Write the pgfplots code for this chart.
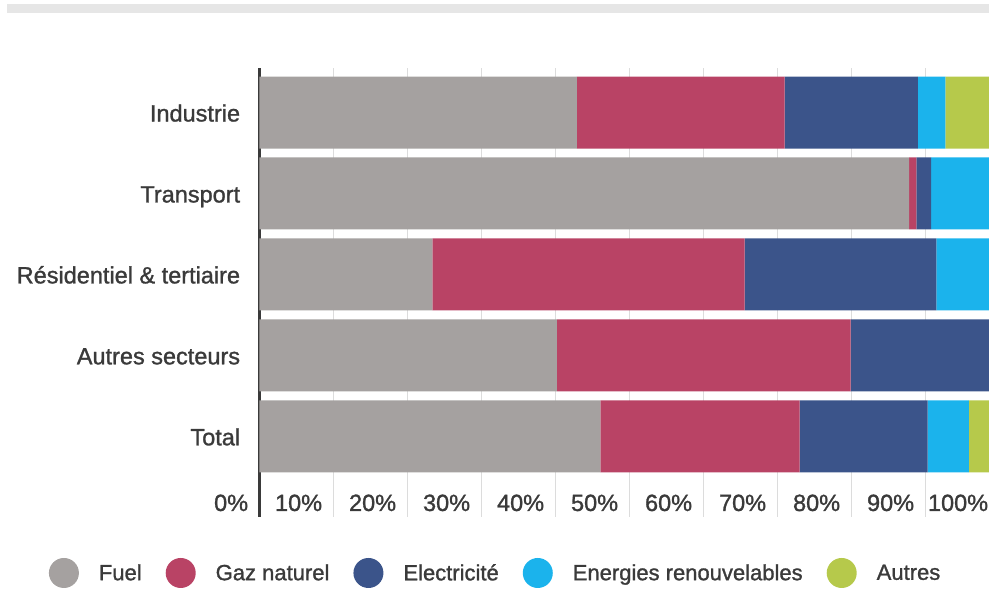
\documentclass[border=0pt]{standalone}
\usepackage{pgfplots}
\usepackage{pgfplotstable}
\pgfplotsset{compat=1.18}
\usepackage{fontspec}
\setmainfont{Liberation Sans}[FakeBold=1.2]

\definecolor{fuel}{HTML}{A5A1A0}
\definecolor{gaz}{HTML}{B94365}
\definecolor{elec}{HTML}{3B548A}
\definecolor{renew}{HTML}{1BB3EC}
\definecolor{autres}{HTML}{B6C94B}
\definecolor{txt}{HTML}{3A3A3A}
\definecolor{gridc}{HTML}{DCDCDC}
\definecolor{headc}{HTML}{E6E6E6}

% Share of each energy source in final consumption, by sector (%)
% pos: 4 = Industrie ... 0 = Total
\pgfplotstableread{
pos fuel gaz  elec  renew autres
4   42.9 28.1 18.0  3.7   7.3
3   87.8 1.0  2.0   9.2   0
2   23.4 42.2 25.9  8.5   0
1   40.2 39.7 20.1  0     0
0   46.1 26.9 17.3  5.6   4.1
}\mixdata

\begin{document}
\begin{tikzpicture}[x=1pt,y=1pt]
\path[use as bounding box] (0,0) rectangle (989,592);
% header rule
\fill[headc] (7,588) rectangle (989,578.7);
\begin{axis}[
  at={(259.3pt,75pt)}, anchor=south west,
  scale only axis,
  width=740pt, height=449pt,
  clip=false,
  xbar stacked,
  bar width=72pt,
  xmin=0, xmax=100,
  ymin=-0.997, ymax=4.55,
  axis line style={draw=none},
  major tick length=0pt,
  xmajorgrids,
  grid style={gridc, line width=1.5pt},
  xtick={0,10,...,100},
  xticklabels={0\%,10\%,20\%,30\%,40\%,50\%,60\%,70\%,80\%,90\%,100\%},
  ytick={0,1,2,3,4},
  yticklabels={Total,Autres secteurs,R\'esidentiel \& tertiaire,Transport,Industrie},
  every tick label/.append style={font=\fontsize{23.5}{28}\selectfont, text=txt, inner sep=0pt},
  xticklabel style={anchor=base east, xshift=-11pt, yshift=6pt},
  yticklabel style={anchor=base east, xshift=-19pt, yshift=-9pt},
  legend columns=5,
  legend image code/.code={\fill[#1] (15pt,0pt) circle[radius=15pt];},
  legend style={draw=none, fill=none, at={(0.318,-0.1247)}, anchor=center,
    inner sep=0pt,
    font=\fontsize{22}{26}\selectfont, text=txt,
    nodes={inner sep=0pt},
    /tikz/every odd column/.append style={column sep=20pt},
    /tikz/every even column/.append style={column sep=24pt}},
]
\addplot[fill=fuel, draw=none] table[x=fuel, y=pos] {\mixdata};
\addplot[fill=gaz, draw=none] table[x=gaz, y=pos] {\mixdata};
\addplot[fill=elec, draw=none] table[x=elec, y=pos] {\mixdata};
\addplot[fill=renew, draw=none] table[x=renew, y=pos] {\mixdata};
\addplot[fill=autres, draw=none] table[x=autres, y=pos] {\mixdata};
\legend{Fuel, Gaz naturel, Electricit\'e, Energies renouvelables, Autres}
% left axis line
\draw[txt, line width=3pt] (rel axis cs:0,0) -- (rel axis cs:0,1);
\end{axis}
\end{tikzpicture}
\end{document}
